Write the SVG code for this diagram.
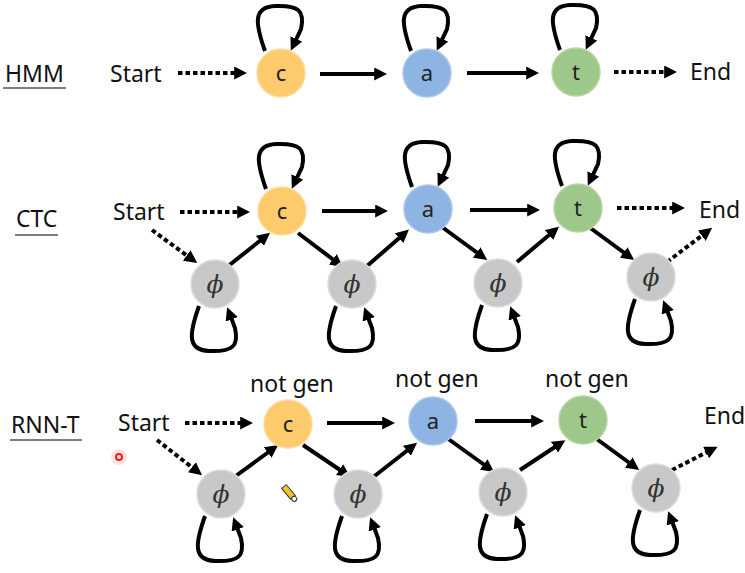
<svg xmlns="http://www.w3.org/2000/svg" width="745" height="573" viewBox="0 0 745 573">
<style>
.lbl{font-family:"Noto Sans","Open Sans",sans-serif;font-size:23px;fill:#111}
.ltr{font-family:"Noto Sans","Open Sans",sans-serif;font-size:22px;fill:#222;text-anchor:middle}
.phi{font-family:"DejaVu Serif","Liberation Serif",serif;font-style:italic;font-size:25px;fill:#333;text-anchor:middle}
.c{fill:#FDCA6C;stroke:#FDDB9E;stroke-width:1.5}
.a{fill:#8EB4E3;stroke:#ABC7EB;stroke-width:1.5}
.t{fill:#9DC889;stroke:#B5D6A6;stroke-width:1.5}
.p{fill:#C8C8C8;stroke:#DCDCDC;stroke-width:1.5}
.e{fill:none;stroke:#000;stroke-width:4;marker-end:url(#ah)}
.d{fill:none;stroke:#000;stroke-width:4;stroke-dasharray:4.5 3;marker-end:url(#ah)}
.ul{stroke:#555;stroke-width:1.5}
</style>
<defs>
<marker id="ah" viewBox="0 0 10 10" refX="6" refY="5" markerWidth="13" markerHeight="13" markerUnits="userSpaceOnUse" orient="auto">
<path d="M0,0 L10,5 L0,10 z" fill="#000"/>
</marker>
</defs>
<rect width="745" height="573" fill="#fff"/>

<!-- row labels -->
<g id="label-hmm"><text class="lbl" x="5" y="82">HMM</text><line class="ul" x1="3" y1="88" x2="66" y2="88"/></g>
<g id="label-ctc"><text class="lbl" x="16" y="227">CTC</text><line class="ul" x1="15" y1="235" x2="58" y2="235"/></g>
<g id="label-rnnt"><text class="lbl" x="11" y="433">RNN-T</text><line class="ul" x1="10" y1="440" x2="82" y2="440"/></g>

<!-- terminal labels -->
<g id="hmm-start"><text class="lbl" x="110" y="82">Start</text></g>
<g id="hmm-end"><text class="lbl" x="690" y="80">End</text></g>
<g id="ctc-start"><text class="lbl" x="113" y="220">Start</text></g>
<g id="ctc-end"><text class="lbl" x="699" y="218">End</text></g>
<g id="rnnt-start"><text class="lbl" x="118" y="431">Start</text></g>
<g id="rnnt-end"><text class="lbl" x="704" y="424">End</text></g>

<g id="connectors">
<!-- HMM -->
<path class="d" d="M178,73 L242,73"/>
<path class="e" d="M320,74 L382,74"/>
<path class="e" d="M467,73 L534,73"/>
<path class="d" d="M614,72 L672,72"/>
<path class="e" transform="translate(281,73)" d="M-16,-22 C-26,-50 -28,-66 -6,-67 C18,-68 24,-62 20,-44 L12,-27"/>
<path class="e" transform="translate(427,73)" d="M-16,-22 C-26,-50 -28,-66 -6,-67 C18,-68 24,-62 20,-44 L12,-27"/>
<path class="e" transform="translate(576,72)" d="M-16,-22 C-26,-50 -28,-66 -6,-67 C18,-68 24,-62 20,-44 L12,-27"/>
<!-- CTC -->
<path class="d" d="M180,212 L245,212"/>
<path class="e" d="M322,211 L383,211"/>
<path class="e" d="M470,210 L535,210"/>
<path class="d" d="M617,208 L680,208"/>
<path class="d" d="M152,230 L193,260"/>
<path class="e" d="M227,267 L266,236"/>
<path class="e" d="M298,233 L339,264"/>
<path class="e" d="M367,266 L405,233"/>
<path class="e" d="M442,227 L483,257"/>
<path class="e" d="M517,262 L555,230"/>
<path class="e" d="M589,227 L630,257"/>
<path class="d" d="M667,262 L708,231"/>
<path class="e" transform="translate(282,211)" d="M-16,-22 C-26,-50 -28,-66 -6,-67 C18,-68 24,-62 20,-44 L12,-27"/>
<path class="e" transform="translate(428,209)" d="M-16,-22 C-26,-50 -28,-66 -6,-67 C18,-68 24,-62 20,-44 L12,-27"/>
<path class="e" transform="translate(578,208)" d="M-16,-22 C-26,-50 -28,-66 -6,-67 C18,-68 24,-62 20,-44 L12,-27"/>
<path class="e" transform="translate(215,284)" d="M-16,22 C-26,50 -28,66 -6,67 C18,68 24,62 20,44 L14,28"/>
<path class="e" transform="translate(352,284)" d="M-16,22 C-26,50 -28,66 -6,67 C18,68 24,62 20,44 L14,28"/>
<path class="e" transform="translate(498,283)" d="M-16,22 C-26,50 -28,66 -6,67 C18,68 24,62 20,44 L14,28"/>
<path class="e" transform="translate(651,277)" d="M-16,22 C-26,50 -28,66 -6,67 C18,68 24,62 20,44 L14,28"/>
<!-- RNN-T -->
<path class="d" d="M185,423 L248,423"/>
<path class="e" d="M327,423 L390,423"/>
<path class="e" d="M475,421 L539,421"/>
<path class="d" d="M157,440 L198,472"/>
<path class="e" d="M233,478 L274,448"/>
<path class="e" d="M303,445 L346,474"/>
<path class="e" d="M372,478 L413,446"/>
<path class="e" d="M447,438 L490,469"/>
<path class="e" d="M520,470 L561,443"/>
<path class="e" d="M594,437 L635,467"/>
<path class="d" d="M672,470 L713,449"/>
<path class="e" transform="translate(221,494)" d="M-16,22 C-26,50 -28,66 -6,67 C18,68 24,62 20,44 L14,28"/>
<path class="e" transform="translate(358,494)" d="M-16,22 C-26,50 -28,66 -6,67 C18,68 24,62 20,44 L14,28"/>
<path class="e" transform="translate(503,492)" d="M-16,22 C-26,50 -28,66 -6,67 C18,68 24,62 20,44 L14,28"/>
<path class="e" transform="translate(656,488)" d="M-16,22 C-26,50 -28,66 -6,67 C18,68 24,62 20,44 L14,28"/>
</g>

<!-- HMM nodes -->
<g id="hmm-c"><circle class="c" cx="281" cy="73" r="24"/><text class="ltr" x="281" y="81">c</text></g>
<g id="hmm-a"><circle class="a" cx="427" cy="73" r="24"/><text class="ltr" x="427" y="81">a</text></g>
<g id="hmm-t"><circle class="t" cx="576" cy="72" r="24"/><text class="ltr" x="576" y="80">t</text></g>

<!-- CTC nodes -->
<g id="ctc-c"><circle class="c" cx="282" cy="211" r="24"/><text class="ltr" x="282" y="219">c</text></g>
<g id="ctc-a"><circle class="a" cx="428" cy="209" r="24"/><text class="ltr" x="428" y="217">a</text></g>
<g id="ctc-t"><circle class="t" cx="578" cy="208" r="24"/><text class="ltr" x="578" y="216">t</text></g>
<g id="ctc-phi1"><circle class="p" cx="215" cy="284" r="24"/><text class="phi" x="215" y="293">ϕ</text></g>
<g id="ctc-phi2"><circle class="p" cx="352" cy="284" r="24"/><text class="phi" x="352" y="293">ϕ</text></g>
<g id="ctc-phi3"><circle class="p" cx="498" cy="283" r="24"/><text class="phi" x="498" y="292">ϕ</text></g>
<g id="ctc-phi4"><circle class="p" cx="651" cy="277" r="24"/><text class="phi" x="651" y="286">ϕ</text></g>

<!-- RNN-T nodes -->
<g id="rnnt-c"><text class="lbl" x="250" y="392">not gen</text><circle class="c" cx="288" cy="424" r="24"/><text class="ltr" x="288" y="432">c</text></g>
<g id="rnnt-a"><text class="lbl" x="395" y="387">not gen</text><circle class="a" cx="433" cy="421" r="24"/><text class="ltr" x="433" y="429">a</text></g>
<g id="rnnt-t"><text class="lbl" x="545" y="387">not gen</text><circle class="t" cx="583" cy="420" r="24"/><text class="ltr" x="583" y="428">t</text></g>
<g id="rnnt-phi1"><circle class="p" cx="221" cy="494" r="24"/><text class="phi" x="221" y="503">ϕ</text></g>
<g id="rnnt-phi2"><circle class="p" cx="358" cy="494" r="24"/><text class="phi" x="358" y="503">ϕ</text></g>
<g id="rnnt-phi3"><circle class="p" cx="503" cy="492" r="24"/><text class="phi" x="503" y="501">ϕ</text></g>
<g id="rnnt-phi4"><circle class="p" cx="656" cy="488" r="24"/><text class="phi" x="656" y="497">ϕ</text></g>

<!-- pointer marks -->
<circle cx="119" cy="457" r="8" fill="#ff3030" opacity="0.15"/>
<circle cx="119" cy="457" r="3" fill="#fff0f0" stroke="#f02020" stroke-width="2"/>
<g transform="translate(291,495) rotate(-40)">
<rect x="-3" y="-11" width="6" height="14" fill="#F2C230" stroke="#333" stroke-width="1"/>
<circle cx="0" cy="5" r="2.5" fill="#fff" stroke="#333" stroke-width="1"/>
</g>
</svg>
